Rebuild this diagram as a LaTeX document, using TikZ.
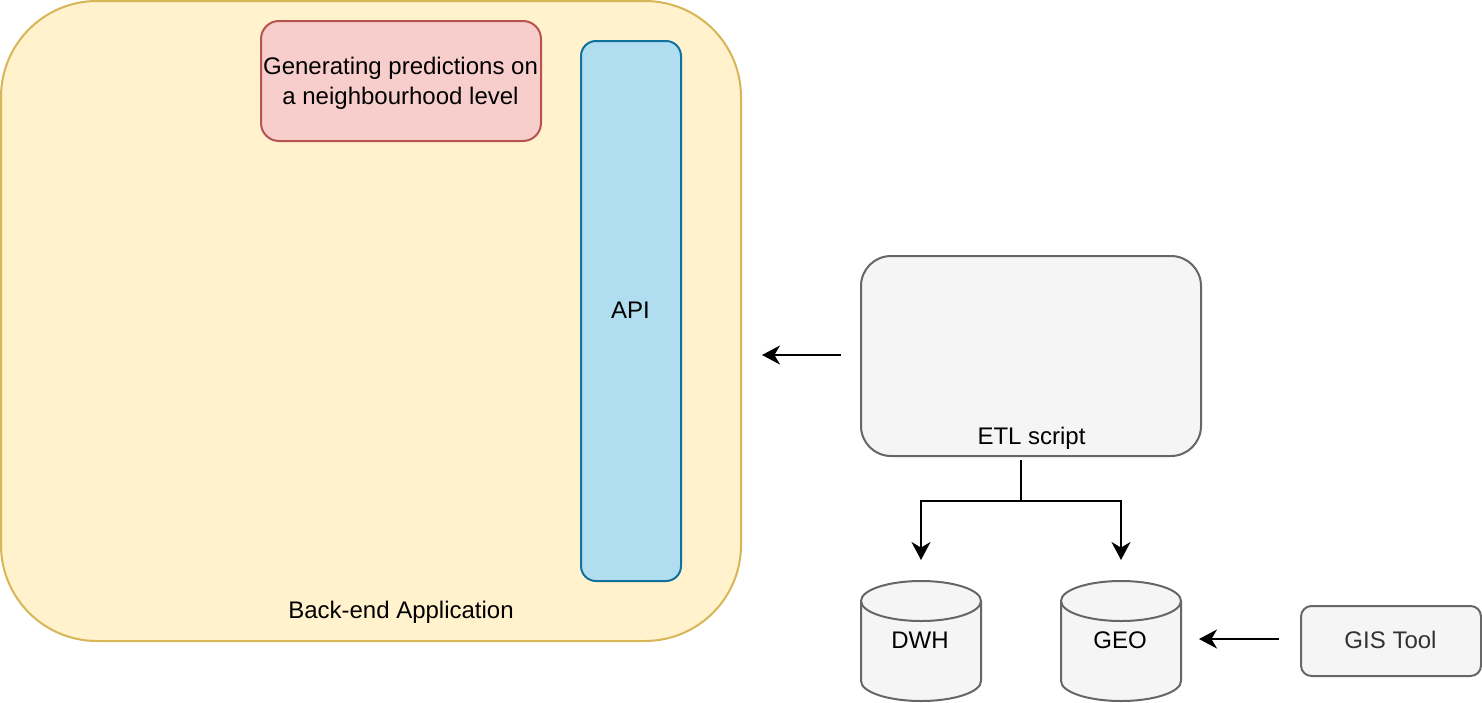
\documentclass[tikz,border=0pt]{standalone}
\usepackage{fontspec}
\setmainfont{Liberation Sans}
\usetikzlibrary{arrows.meta}
\definecolor{appfill}{HTML}{FFF2CC}\definecolor{appline}{HTML}{D6B656}
\definecolor{redfill}{HTML}{F8CECC}\definecolor{redline}{HTML}{B85450}
\definecolor{apifill}{HTML}{B1DDF0}\definecolor{apiline}{HTML}{10739E}
\definecolor{grayfill}{HTML}{F5F5F5}\definecolor{grayline}{HTML}{666666}
\definecolor{gistext}{HTML}{333333}
\tikzset{
  px/.style={x=0.5pt,y=-0.5pt},
  box/.style={draw,line width=1pt,outer sep=0pt,inner sep=0pt,align=center,font=\fontsize{12}{15}\selectfont},
  graybox/.style={box,draw=grayline,fill=grayfill},
  cylbody/.style={draw=grayline,fill=grayfill,line width=1pt},
  lbl/.style={anchor=base,inner sep=0pt,font=\fontsize{12}{15}\selectfont},
  conn/.style={line width=1pt,-{Stealth[length=9pt,width=9.5pt,inset=2.8pt]}},
  cylslot/.style={minimum width=60pt,minimum height=60pt,inner sep=0pt,outer sep=0pt}
}
\newcommand{\cylinderat}[3]{%
  \node[cylslot] (#1) at (#2,641) {};
  \path[cylbody] (#1.north west) ++(0,-10pt)
     arc[start angle=180,end angle=0,x radius=30pt,y radius=10pt]
     -- ++(0,-40pt)
     arc[start angle=0,end angle=-180,x radius=30pt,y radius=10pt]
     -- cycle;
  \path[cylbody,fill=none] (#1.north west) ++(0,-10pt)
     arc[start angle=180,end angle=360,x radius=30pt,y radius=10pt];
  \node[lbl] (#1text) at (#2-1,648) {#3};
}
\begin{document}
\begin{tikzpicture}[px]
\useasboundingbox (0,0) rectangle (1482,702);
\node[box,draw=appline,fill=appfill,rounded corners=48pt,minimum width=370pt,minimum height=320pt] (app) at (371,321) {};
\node[lbl] (applabel) at (401,618) {Back-end Application};
\node[box,draw=redline,fill=redfill,rounded corners=9pt,minimum width=140pt,minimum height=60pt] (pred) at (401,81) {};
\node[lbl] (predtext1) at (400.5,74) {Generating predictions on};
\node[lbl] (predtext2) at (400.5,104) {a neighbourhood level};
\node[box,draw=apiline,fill=apifill,rounded corners=7.5pt,minimum width=50pt,minimum height=270pt] (api) at (631,311) {};
\node[lbl] (apitext) at (630.5,318) {API};
\node[graybox,rounded corners=15pt,minimum width=170pt,minimum height=100pt] (etl) at (1031,356) {};
\node[lbl] (etltext) at (1031.5,444) {ETL script};
\node[graybox,rounded corners=5.25pt,minimum width=90pt,minimum height=35pt] (gis) at (1391,641) {};
\node[lbl,text=gistext] (gistext) at (1390.5,648) {GIS Tool};
\cylinderat{dwh}{921}{DWH}
\cylinderat{geo}{1121}{GEO}
\draw[line width=1pt] ([xshift=-5pt,yshift=-2pt]etl.south) -- ++(0,-20.5pt) coordinate (split);
\draw[conn] (split) -| ([yshift=10.5pt]dwh.north);
\draw[conn] (split) -| ([yshift=10.5pt]geo.north);
\draw[conn] ([xshift=-10pt,yshift=0.5pt]etl.west) -- ([xshift=10.5pt,yshift=0.5pt]etl.west -| app.east);
\draw[conn] ([xshift=-11pt,yshift=1pt]gis.west) -- ([xshift=9pt,yshift=1pt]geo.east);
\end{tikzpicture}
\end{document}
